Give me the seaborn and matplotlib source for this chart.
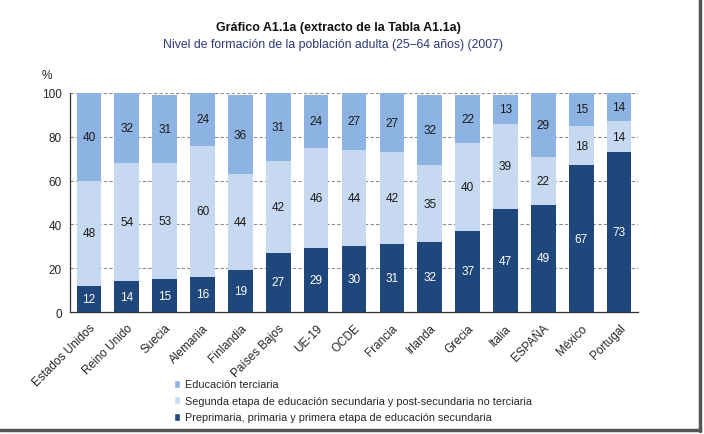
import matplotlib
matplotlib.use("Agg")
import matplotlib.pyplot as plt
from matplotlib.patches import Patch
from matplotlib.lines import Line2D
import numpy as np
import pandas as pd
import seaborn as sns

paises = ["Estados Unidos", "Reino Unido", "Suecia", "Alemania", "Finlandia",
          "Países Bajos", "UE-19", "OCDE", "Francia", "Irlanda", "Grecia",
          "Italia", "ESPAÑA", "México", "Portugal"]
primaria = [12, 14, 15, 16, 19, 27, 29, 30, 31, 32, 37, 47, 49, 67, 73]
secundaria = [48, 54, 53, 60, 44, 42, 46, 44, 42, 35, 40, 39, 22, 18, 14]
terciaria = [40, 32, 31, 24, 36, 31, 24, 27, 27, 32, 22, 13, 29, 15, 14]

lbl_ter = "Educación terciaria"
lbl_sec = "Segunda etapa de educación secundaria y post-secundaria no terciaria"
lbl_pri = "Preprimaria, primaria y primera etapa de educación secundaria"

c_ter = "#8db3e2"
c_sec = "#c6d9f1"
c_pri = "#1f477b"

sns.set_style("white")
plt.rcParams["font.family"] = ["Liberation Sans", "DejaVu Sans"]

df = pd.DataFrame({"pais": paises, "pri": primaria, "sec": secundaria, "ter": terciaria})
df["c1"] = df["pri"]
df["c2"] = df["pri"] + df["sec"]
df["c3"] = df["pri"] + df["sec"] + df["ter"]

fig = plt.figure(figsize=(7.04, 4.35), dpi=100)
ax = fig.add_axes([70 / 704, 1 - 313 / 435, (638 - 70) / 704, (313 - 94) / 435])

# grid first so bars sit on top
for v in [20, 40, 60, 80, 100]:
    ax.axhline(v, color="#8c8c8c", lw=0.8, ls=(0, (3, 2)), zorder=0)

sns.barplot(data=df, x="pais", y="c3", color=c_ter, width=0.65, saturation=1, linewidth=0, ax=ax, zorder=2)
sns.barplot(data=df, x="pais", y="c2", color=c_sec, width=0.65, saturation=1, linewidth=0, ax=ax, zorder=3)
sns.barplot(data=df, x="pais", y="c1", color=c_pri, width=0.65, saturation=1, linewidth=0, ax=ax, zorder=4)

for i in range(len(df)):
    p, s, t = df.loc[i, "pri"], df.loc[i, "sec"], df.loc[i, "ter"]
    ax.text(i, p / 2, str(p), ha="center", va="center", color="white", fontsize=8.5, zorder=5)
    ax.text(i, p + s / 2, str(s), ha="center", va="center", color="#1a1a1a", fontsize=8.5, zorder=5)
    top = min(p + s + t, 100)
    ax.text(i, (p + s + top) / 2, str(t), ha="center", va="center",
            color="#1a1a1a", fontsize=8.5, zorder=5)

ax.set_ylim(0, 100)
ax.set_xlim(-0.5, len(paises) - 0.5)
ax.set_yticks([0, 20, 40, 60, 80, 100])
ax.set_xlabel("")
ax.set_ylabel("")
ax.set_xticks(np.arange(len(paises)))
ax.set_xticklabels(paises, rotation=45, ha="right", rotation_mode="anchor", fontsize=8.5)
ax.set_xticks(np.arange(len(paises) + 1) - 0.5, minor=True)
ax.tick_params(axis="x", which="major", length=0, pad=7)
ax.tick_params(axis="x", which="minor", length=4, width=0.8, color="#333333", direction="out")
ax.tick_params(axis="y", length=4, width=0.8, color="#333333", direction="out", labelsize=8.5, pad=2)
for side in ["top", "right"]:
    ax.spines[side].set_visible(False)
for side in ["left", "bottom"]:
    ax.spines[side].set_color("#333333")
    ax.spines[side].set_linewidth(0.9)

ax.text(-0.04, 1.07, "%", transform=ax.transAxes, fontsize=8.5, ha="center")

fig.text(338 / 704, 1 - 28 / 435, "Gráfico A1.1a (extracto de la Tabla A1.1a)", ha="center",
         va="center", fontsize=9, fontweight="bold", color="#111111")
fig.text(333 / 704, 1 - 45 / 435, "Nivel de formación de la población adulta (25–64 años) (2007)",
         ha="center", va="center", fontsize=8.8, color="#2b3875")

handles = [Patch(facecolor=c_ter, label=lbl_ter),
           Patch(facecolor=c_sec, label=lbl_sec),
           Patch(facecolor=c_pri, label=lbl_pri)]
fig.legend(handles=handles, loc="upper left", bbox_to_anchor=(169 / 704, 1 - 375 / 435),
           frameon=False, fontsize=7.8, handlelength=0.55, handleheight=0.75, handletextpad=0.45,
           labelspacing=0.6, borderpad=0)

# shadow frame on right and bottom
fig.add_artist(Line2D([700 / 704, 700 / 704], [3 / 435, 1.0], color="#555555", lw=2.5))
fig.add_artist(Line2D([0, 700 / 704], [4 / 435, 4 / 435], color="#555555", lw=2.5))

fig.savefig("out.png", dpi=100)
